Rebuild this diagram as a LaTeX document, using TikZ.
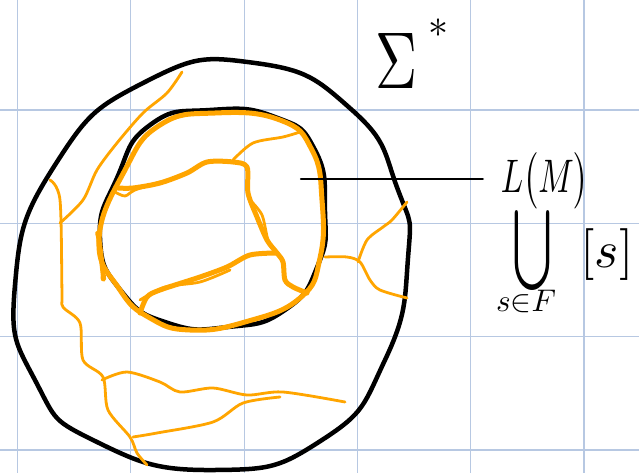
\documentclass[tikz,border=0pt]{standalone}
\usepackage{amsmath}
\usepackage{graphicx}
\usetikzlibrary{positioning}
\definecolor{gridblue}{RGB}{183,200,226}
\definecolor{marker}{RGB}{255,165,0}

\begin{document}
\begin{tikzpicture}[x=1pt, y=-1pt,
  gridline/.style={draw=gridblue, line width=1.2pt},
  ink/.style={draw=black, line width=4.5pt, line cap=round, line join=round},
  hilite/.style={draw=marker, line width=5pt, line cap=round, line join=round},
  vein/.style={draw=marker, line width=2.8pt, line cap=round, line join=round},
  pointer/.style={draw=black, line width=2.5pt, line cap=round},
  hand/.style={inner sep=0pt, anchor=center}
  ]
\useasboundingbox (0,0) rectangle (639,473);
\fill[white] (0,0) rectangle (639,473);

% Grid paper
\foreach \gx in {17.5,130.8,244.1,357.4,470.7,584}
  \draw[gridline] (\gx,0) -- (\gx,473);
\foreach \gy in {110,223.3,336.6,450}
  \draw[gridline] (0,\gy) -- (639,\gy);

% Sigma^* (outer set)
\draw[ink] plot[smooth cycle, tension=0.9] coordinates {(408,258) (398,190) (352,110) (255,63) (145,82) (55,165) (15,285) (36,382) (97,442) (215,470) (322,440) (385,360)};

% L(M) (inner set)
\draw[ink] plot[smooth cycle, tension=0.9] coordinates {(325,212) (315,150) (275,117) (210,110) (150,125) (117,178) (100,238) (122,292) (168,323) (228,327) (285,310) (318,265)};

% Classes [s] inside L(M)
\draw[hilite] plot[smooth cycle, tension=0.8] coordinates {(322,200) (312,150) (280,120) (215,113) (160,125) (125,170) (99,240) (120,290) (150,318) (190,330) (245,322) (300,298) (320,258)};
\draw[hilite] (98,235) to[out=95,in=-80] (103,277);
\draw[hilite] plot[smooth, tension=0.5] coordinates {(118,188) (133,188) (160,183) (187,173) (207,162) (233,162) (247,167) (248,193) (257,217) (267,240) (277,253) (283,262) (285,280) (293,287) (307,293)};
\draw[hilite] plot[smooth, tension=0.5] coordinates {(277,253) (250,255) (227,267) (200,277) (160,290) (147,297) (140,313)};
\draw[vein] plot[smooth, tension=0.5] coordinates {(233,160) (253,143) (283,137) (300,132)};
\draw[vein] plot[smooth, tension=0.5] coordinates {(115,192) (125,196) (135,190) (160,182)};
\draw[vein] plot[smooth, tension=0.5] coordinates {(250,200) (262,215) (268,240) (275,250)};
\draw[vein] plot[smooth, tension=0.5] coordinates {(140,300) (165,287) (200,282) (230,270)};

% Classes [s] outside L(M)
\draw[vein] plot[smooth, tension=0.5] coordinates {(182,72) (167,93) (143,113) (117,143) (97,170) (83,200) (60,223)};
\draw[vein] plot[smooth, tension=0.5] coordinates {(50,180) (60,200) (62,293) (63,307) (80,323) (83,360) (103,377) (108,410) (130,437) (137,453) (147,465)};
\draw[vein] plot[smooth, tension=0.5] coordinates {(102,380) (127,372) (160,382) (180,392) (213,388) (247,395) (283,392) (345,402)};
\draw[vein] plot[smooth, tension=0.5] coordinates {(133,437) (157,433) (213,422) (243,403) (280,397)};
\draw[vein] plot[smooth, tension=0.5] coordinates {(325,257) (347,257) (360,262) (370,280) (380,290) (407,298)};
\draw[vein] plot[smooth, tension=0.5] coordinates {(358,262) (367,240) (383,227) (392,220) (407,202)};

% Labels
\node[hand] (sigma) at (397,61) {\resizebox{42pt}{55pt}{$\Sigma$}};
\node[hand] (star) at (438,28) {\resizebox{20pt}{!}{$*$}};
\node[hand] (lm) at (545,181) {\resizebox{88pt}{40pt}{$L\bigl(M\bigr)$}};
\node[hand] (cup) at (532,250) {\resizebox{40pt}{60pt}{$\bigcup$}};
\node[hand] (cupidx) at (526,301) {\resizebox{60pt}{!}{$s{\in}F$}};
\node[hand] (cls) at (607,255) {\resizebox{53pt}{!}{$[s]$}};

\coordinate (tip) at (301,179);
\draw[pointer] (tip) -- ([xshift=-18pt]tip -| lm.west);
\end{tikzpicture}
\end{document}
